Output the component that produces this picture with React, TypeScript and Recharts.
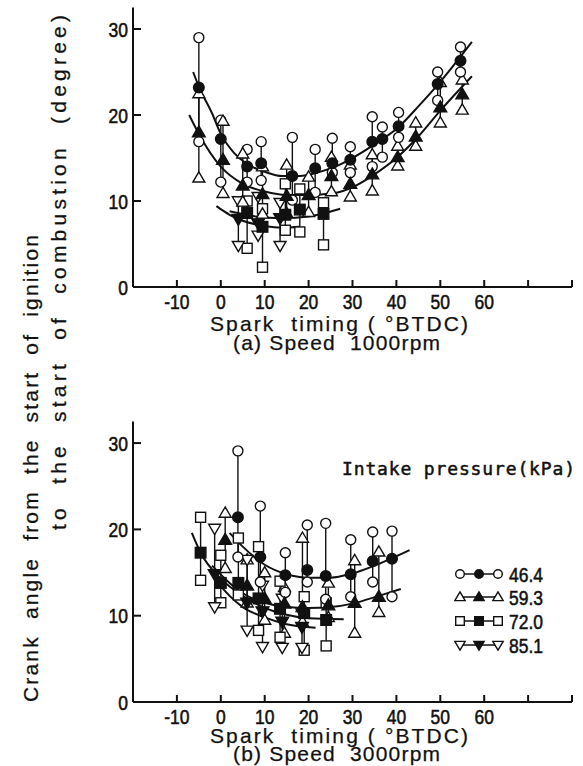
import React from "react";
import { ComposedChart, Scatter, Line, XAxis, YAxis, ErrorBar } from "recharts";

// each row: [spark timing, min, mean, max]
// (a) 1000 rpm
const A_464 = [
  [-5, 16.9, 23.2, 29.0],
  [0, 12.2, 17.2, 19.4],
  [6, 12.2, 14.0, 16.0],
  [9.2, 12.4, 14.4, 16.9],
  [16.3, 10.1, 12.9, 17.4],
  [21.5, 11.0, 13.8, 16.0],
  [25.4, 13.3, 14.4, 17.3],
  [29.5, 13.3, 14.8, 16.3],
  [34.5, 14.0, 16.9, 19.8],
  [36.8, 15.1, 17.2, 18.6],
  [40.5, 17.4, 18.7, 20.3],
  [49.4, 21.7, 23.6, 25.0],
  [54.6, 25.0, 26.3, 27.9],
];
const A_593 = [
  [-5, 12.7, 18.0, 22.5],
  [0.5, 10.9, 14.8, 19.3],
  [5, 9.9, 11.8, 15.5],
  [9.5, 8.5, 10.8, 14.0],
  [15, 8.6, 10.6, 14.2],
  [20, 8.7, 10.7, 12.8],
  [25.2, 11.1, 12.9, 15.1],
  [29.5, 10.5, 12.0, 14.2],
  [34.5, 11.2, 13.1, 15.4],
  [40.3, 14.1, 15.1, 16.4],
  [44.4, 16.4, 17.5, 19.1],
  [50, 19.1, 20.9, 23.8],
  [55, 20.6, 22.4, 24.1],
];
const A_720 = [
  [6, 4.5, 8.6, 10.0],
  [9.5, 2.3, 7.0, 9.1],
  [14.7, 6.6, 8.4, 12.0],
  [18, 6.4, 9.0, 11.4],
  [23.4, 4.9, 8.5, 9.8],
];
const A_851 = [
  [4, 4.8, 7.9, 10.0],
  [8.5, 6.0, 7.4, 10.5],
  [13.5, 4.8, 8.0, 9.8],
];

// fitted curves: [spark timing, angle]
const A_464_FIT = [[-6.3, 25.0], [-5, 23.3], [-2, 20.2], [0, 17.8], [3, 15.6], [6, 14.3], [10, 13.4], [14, 12.9], [18, 12.9], [22, 13.3], [27, 14.2], [34.5, 16.4], [40.5, 18.6], [45, 21.0], [49.4, 23.5], [57.2, 28.5]];
const A_593_FIT = [[-7.2, 20.0], [-5, 17.8], [0, 14.0], [5, 12.0], [10, 11.1], [15, 10.7], [20, 10.7], [25.6, 10.9], [30, 11.6], [35, 13.1], [40, 15.0], [45, 17.5], [50, 20.5], [57.2, 24.5]];
const A_720_FIT = [[2, 8.8], [8, 8.2], [14, 8.0], [20, 8.2], [27.2, 9.1]];
const A_851_FIT = [[-1, 9.4], [2, 8.4], [5, 7.7], [10, 7.1], [14, 6.9], [18, 7.0]];

// (b) 3000 rpm
const B_464 = [
  [3.9, 16.8, 21.4, 29.1],
  [9, 13.9, 16.8, 22.7],
  [14.7, 12.7, 14.7, 17.3],
  [19.7, 13.9, 15.3, 20.5],
  [23.9, 11.9, 14.6, 20.7],
  [29.6, 12.2, 14.8, 18.8],
  [34.6, 13.9, 16.3, 19.7],
  [39, 12.2, 16.6, 19.8],
];
const B_593 = [
  [1, 15.5, 18.8, 21.9],
  [6, 11.5, 13.5, 16.5],
  [10, 9.5, 12.0, 15.0],
  [14.5, 8.0, 11.4, 13.3],
  [18.6, 9.3, 11.0, 19.0],
  [24.5, 9.8, 11.2, 13.8],
  [30.5, 8.0, 11.5, 16.4],
  [36, 10.4, 12.2, 17.4],
];
const B_720 = [
  [-4.6, 14.1, 17.3, 21.4],
  [0, 11.5, 13.8, 17.0],
  [4, 12.4, 13.8, 19.0],
  [8.6, 8.3, 12.0, 18.0],
  [13.5, 7.5, 10.8, 14.0],
  [19, 6.0, 10.3, 12.2],
  [24, 6.5, 9.5, 11.5],
];
const B_851 = [
  [-1.4, 11.0, 14.8, 20.1],
  [6, 8.3, 11.5, 16.5],
  [9.5, 6.4, 10.5, 13.5],
  [14, 6.3, 9.3, 12.0],
  [18.5, 6.3, 8.7, 10.3],
];

const B_464_FIT = [[2, 19.6], [5, 18.0], [10, 15.9], [15, 14.8], [20, 14.4], [25, 14.4], [30, 14.9], [35, 15.8], [43, 17.6]];
const B_593_FIT = [[-2, 15.8], [2, 13.8], [5, 12.6], [10, 11.5], [15, 11.0], [20, 10.9], [25, 11.0], [30, 11.4], [36, 12.3], [41, 13.1]];
const B_720_FIT = [[-6.6, 19.6], [-4.6, 17.3], [0, 14.3], [5, 12.3], [10, 10.9], [15, 10.1], [20, 9.7], [28, 9.6]];
const B_851_FIT = [[-1, 14.0], [2, 12.3], [5, 11.0], [10, 9.8], [15, 9.0], [21.6, 8.6]];

const PRESSURES = ["46.4", "59.3", "72.0", "85.1"];
const KINDS = ["circle", "up", "square", "down"];
const X_TICKS = [-10, 0, 10, 20, 30, 40, 50, 60, 70, 80];
const Y_TICKS = [0, 10, 20, 30];

const INK = "#111";

const toPoints = (rows) =>
  rows.map(([x, lo, mean, hi]) => ({ x, lo, mean, hi, err: [mean - lo, hi - mean] }));
const toCurve = (rows) => rows.map(([x, y]) => ({ x, y }));

function Marker({ kind, cx, cy, filled, s = 5 }) {
  if (cx == null || cy == null) return null;
  const style = { fill: filled ? INK : "#fff", stroke: INK, strokeWidth: 1.4 };
  if (kind === "circle") return <circle cx={cx} cy={cy} r={s} {...style} />;
  if (kind === "square")
    return <rect x={cx - s} y={cy - s} width={s * 2} height={s * 2} {...style} />;
  const d = kind === "up" ? 1 : -1;
  const pts = `${cx},${cy - d * s * 1.2} ${cx - s * 1.2},${cy + d * s * 0.85} ${cx + s * 1.2},${cy + d * s * 0.85}`;
  return <polygon points={pts} {...style} />;
}

const tickFont = {
  fontFamily: "'Liberation Sans', Arial, sans-serif",
  fontSize: 19,
  fill: INK,
  stroke: INK,
  strokeWidth: 0.5,
};

function XTick({ x, y, payload }) {
  const v = payload.value;
  return (
    <g>
      <line x1={x} x2={x} y1={y} y2={y - 7} stroke={INK} strokeWidth={2} />
      {v <= 60 && (
        <text transform={`translate(${x},${y + 21.5}) scale(0.92,1.1)`} textAnchor="middle" {...tickFont}>
          {String(v)}
        </text>
      )}
    </g>
  );
}

function YTick({ x, y, payload }) {
  return (
    <g>
      <line x1={x} x2={x + 8} y1={y} y2={y} stroke={INK} strokeWidth={2} />
      <text transform={`translate(${x - 5},${y + 7.5}) scale(0.92,1.1)`} textAnchor="end" {...tickFont}>
        {String(payload.value)}
      </text>
    </g>
  );
}

function Panel({ data, fits, height, top, xHeight }) {
  const pts = data.map(toPoints);
  return (
    <ComposedChart width={583} height={height} margin={{ top, right: 11, bottom: 0, left: 0 }}>
      <XAxis
        type="number"
        dataKey="x"
        domain={[-20, 80]}
        ticks={X_TICKS}
        interval={0}
        allowDataOverflow
        height={xHeight}
        axisLine={{ stroke: INK, strokeWidth: 2 }}
        tickLine={false}
        tickSize={0}
        tickMargin={0}
        tick={(p) => <XTick {...p} />}
      />
      <YAxis
        type="number"
        domain={[0, 32.5]}
        ticks={Y_TICKS}
        interval={0}
        allowDataOverflow
        width={133}
        axisLine={{ stroke: INK, strokeWidth: 2 }}
        tickLine={false}
        tickSize={0}
        tickMargin={0}
        tick={(p) => <YTick {...p} />}
      />
      {fits.map((f, i) => (
        <Line
          key={`fit${i}`}
          data={toCurve(f)}
          dataKey="y"
          type="monotone"
          stroke={INK}
          strokeWidth={2}
          dot={false}
          isAnimationActive={false}
        />
      ))}
      {pts.map((p, i) => (
        <Scatter key={`bar${i}`} data={p} dataKey="mean" shape={() => <g />} isAnimationActive={false}>
          <ErrorBar dataKey="err" direction="y" width={0} stroke={INK} strokeWidth={1.4} />
        </Scatter>
      ))}
      {pts.map((p, i) => (
        <Scatter
          key={`hi${i}`}
          data={p}
          dataKey="hi"
          isAnimationActive={false}
          shape={(s) => <Marker kind={KINDS[i]} cx={s.cx} cy={s.cy} filled={false} />}
        />
      ))}
      {pts.map((p, i) => (
        <Scatter
          key={`lo${i}`}
          data={p}
          dataKey="lo"
          isAnimationActive={false}
          shape={(s) => <Marker kind={KINDS[i]} cx={s.cx} cy={s.cy} filled={false} />}
        />
      ))}
      {pts.map((p, i) => (
        <Scatter
          key={`mean${i}`}
          data={p}
          dataKey="mean"
          isAnimationActive={false}
          shape={(s) => <Marker kind={KINDS[i]} cx={s.cx} cy={s.cy} filled s={5.3} />}
        />
      ))}
    </ComposedChart>
  );
}

const labelFont = {
  fontFamily: "'Liberation Sans', Arial, sans-serif",
  fontSize: 21,
  fill: INK,
  stroke: INK,
  strokeWidth: 0.25,
  lengthAdjust: "spacing",
};

export default function App() {
  const legendRows = [574, 597, 621, 645];
  return (
    <div style={{ position: "absolute", left: 0, top: 0, width: 583, height: 766, background: "#fff" }}>
      <div style={{ position: "absolute", left: 0, top: 0 }}>
        <Panel
          data={[A_464, A_593, A_720, A_851]}
          fits={[A_464_FIT, A_593_FIT, A_720_FIT, A_851_FIT]}
          height={340}
          top={7.5}
          xHeight={53}
        />
      </div>
      <div style={{ position: "absolute", left: 0, top: 400 }}>
        <Panel
          data={[B_464, B_593, B_720, B_851]}
          fits={[B_464_FIT, B_593_FIT, B_720_FIT, B_851_FIT]}
          height={366}
          top={21.5}
          xHeight={64}
        />
      </div>
      <svg
        width={583}
        height={766}
        style={{ position: "absolute", left: 0, top: 0, pointerEvents: "none" }}
      >
        <text transform="translate(38,702) rotate(-90)" textLength={467} style={{ whiteSpace: "pre" }} {...labelFont}>
          {"Crank  angle  from  the  start  of  ignition"}
        </text>
        <text transform="translate(66,530) rotate(-90)" textLength={515} style={{ whiteSpace: "pre" }} {...labelFont}>
          {"to  the  start  of  combustion  (degree)"}
        </text>

        <text x={210} y={331} textLength={258} style={{ whiteSpace: "pre" }} {...labelFont}>
          {"Spark  timing ( °BTDC)"}
        </text>
        <text x={233} y={350} textLength={207} style={{ whiteSpace: "pre" }} {...labelFont}>
          {"(a) Speed  1000rpm"}
        </text>
        <text x={210} y={743} textLength={258} style={{ whiteSpace: "pre" }} {...labelFont}>
          {"Spark  timing ( °BTDC)"}
        </text>
        <text x={233} y={761} textLength={207} style={{ whiteSpace: "pre" }} {...labelFont}>
          {"(b) Speed  3000rpm"}
        </text>

        <text
          x={342}
          y={475}
          textLength={233}
          lengthAdjust="spacing"
          fontFamily="'DejaVu Sans Mono', monospace"
          fontSize={18}
          fill={INK}
          stroke={INK}
          strokeWidth={0.5}
        >
          Intake pressure(kPa)
        </text>

        {PRESSURES.map((p, i) => {
          const y = legendRows[i];
          return (
            <g key={p}>
              <line x1={460} x2={498} y1={y} y2={y} stroke={INK} strokeWidth={1.5} />
              <Marker kind={KINDS[i]} cx={460} cy={y} filled={false} s={4.3} />
              <Marker kind={KINDS[i]} cx={479} cy={y} filled s={4.3} />
              <Marker kind={KINDS[i]} cx={498} cy={y} filled={false} s={4.3} />
              <text transform={`translate(509,${y + 7.5}) scale(0.92,1.1)`} {...tickFont}>
                {p}
              </text>
            </g>
          );
        })}
      </svg>
    </div>
  );
}
